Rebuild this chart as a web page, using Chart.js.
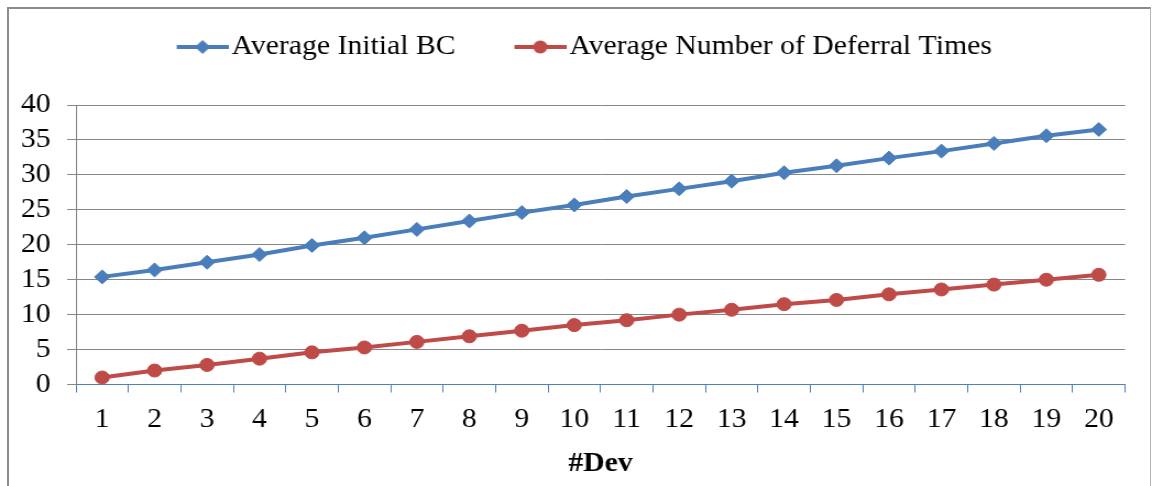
<!DOCTYPE html>
<html>
<head>
<meta charset="utf-8">
<script src="https://cdn.jsdelivr.net/npm/chart.js@4/dist/chart.umd.min.js"></script>
<style>
  html, body { margin: 0; padding: 0; background: #fff; overflow: hidden; }
  body { width: 1152px; height: 486px; position: relative; }
  #frame {
    position: absolute; left: 7px; top: 7px; width: 1141px; height: 600px;
    border-top: 2px solid #8c8c8c; border-left: 2px solid #8c8c8c; border-right: 1px solid #b4b4b4;
  }
  /* the plot is laid out narrower and stretched sideways, like the exported figure */
  #wrap {
    position: absolute; left: 0; top: 0; width: 1047px; height: 486px;
    transform: scaleX(1.10029); transform-origin: 0 0;
  }
</style>
</head>
<body>
<div id="frame"></div>
<div id="wrap"><canvas id="chart"></canvas></div>
<script>
// #Dev on the x axis
const devices = ['1', '2', '3', '4', '5', '6', '7', '8', '9', '10',
  '11', '12', '13', '14', '15', '16', '17', '18', '19', '20']

const initialBC = [15.4, 16.4, 17.5, 18.6, 19.9, 21.0, 22.2, 23.4, 24.6, 25.7,
  26.9, 28.0, 29.1, 30.3, 31.3, 32.4, 33.4, 34.5, 35.6, 36.5]

const deferralTimes = [1.0, 2.0, 2.8, 3.7, 4.6, 5.3, 6.1, 6.9, 7.7, 8.5,
  9.2, 10.0, 10.7, 11.5, 12.1, 12.9, 13.6, 14.3, 15.0, 15.7]

const yTicks = [0, 5, 10, 15, 20, 25, 30, 35, 40]

const BLUE = '#4A7EBB'
const RED = '#BE4B48'
const GRID = '#868686'
const AXIS_BLUE = '#4F81BD'
const FONT = "'Liberation Serif', 'Times New Roman', serif"

Chart.defaults.font.family = FONT
Chart.defaults.color = '#000'

// legend sample: short line with the series marker in the middle
function makeSample(color, marker, r) {
  const c = document.createElement('canvas')
  c.width = 89
  c.height = 20
  const ctx = c.getContext('2d')
  const x0 = 42, x1 = 89, cy = 10, cx = (x0 + x1) / 2
  ctx.strokeStyle = color
  ctx.fillStyle = color
  ctx.lineWidth = 4
  ctx.beginPath()
  ctx.moveTo(x0, cy)
  ctx.lineTo(x1, cy)
  ctx.stroke()
  ctx.beginPath()
  if (marker === 'rectRot') {
    ctx.moveTo(cx - r, cy)
    ctx.lineTo(cx, cy - r)
    ctx.lineTo(cx + r, cy)
    ctx.lineTo(cx, cy + r)
    ctx.closePath()
  } else {
    ctx.arc(cx, cy, r, 0, Math.PI * 2)
  }
  ctx.fill()
  return c
}

const samples = [makeSample(BLUE, 'rectRot', 7), makeSample(RED, 'circle', 6.5)]

new Chart(document.getElementById('chart'), {
  type: 'line',
  data: {
    labels: devices,
    datasets: [
      {
        label: 'Average Initial BC',
        data: initialBC,
        borderColor: BLUE,
        backgroundColor: BLUE,
        borderWidth: 4,
        pointStyle: 'rectRot',
        pointRadius: 7,
        pointBorderWidth: 1,
        tension: 0
      },
      {
        label: 'Average Number of Deferral Times',
        data: deferralTimes,
        borderColor: RED,
        backgroundColor: RED,
        borderWidth: 4,
        pointStyle: 'circle',
        pointRadius: 6.5,
        pointBorderWidth: 1,
        tension: 0
      }
    ]
  },
  options: {
    responsive: true,
    maintainAspectRatio: false,
    animation: false,
    layout: { padding: { top: 11.5, left: 8, right: 24.5, bottom: 0 } },
    plugins: {
      tooltip: { enabled: false },
      legend: {
        position: 'top',
        labels: {
          usePointStyle: true,
          pointStyleWidth: 68,
          padding: 22,
          color: '#000',
          font: { size: 27, family: FONT },
          generateLabels(chart) {
            const items = Chart.defaults.plugins.legend.labels.generateLabels(chart)
            items.forEach(item => { item.pointStyle = samples[item.datasetIndex] })
            return items
          }
        }
      },
      // empty title used as a spacer between legend and plot
      title: {
        display: true,
        text: '',
        weight: 500,
        font: { size: 10, lineHeight: 1 },
        padding: { top: 0, bottom: 24.5 }
      }
    },
    scales: {
      x: {
        offset: true,
        grid: {
          offset: true,
          drawOnChartArea: false,
          drawTicks: true,
          tickLength: 8,
          color: AXIS_BLUE
        },
        border: { color: AXIS_BLUE, width: 1 },
        ticks: {
          padding: 11,
          maxRotation: 0,
          autoSkip: false,
          color: '#000',
          font: { size: 27, family: FONT }
        },
        title: {
          display: true,
          text: '#Dev',
          color: '#000',
          font: { size: 27, weight: 'bold', family: FONT },
          padding: { top: 0, bottom: 6 }
        },
        afterFit(scale) { scale.height = 101.5 }
      },
      y: {
        min: yTicks[0],
        max: yTicks[yTicks.length - 1],
        afterBuildTicks(scale) { scale.ticks = yTicks.map(v => ({ value: v })) },
        grid: { color: GRID, lineWidth: 1, tickLength: 8 },
        border: { color: GRID, width: 1 },
        ticks: {
          padding: 15,
          autoSkip: false,
          color: '#000',
          font: { size: 27, family: FONT }
        },
        afterFit(scale) { scale.width = 61 }
      }
    }
  }
})
</script>
</body>
</html>
